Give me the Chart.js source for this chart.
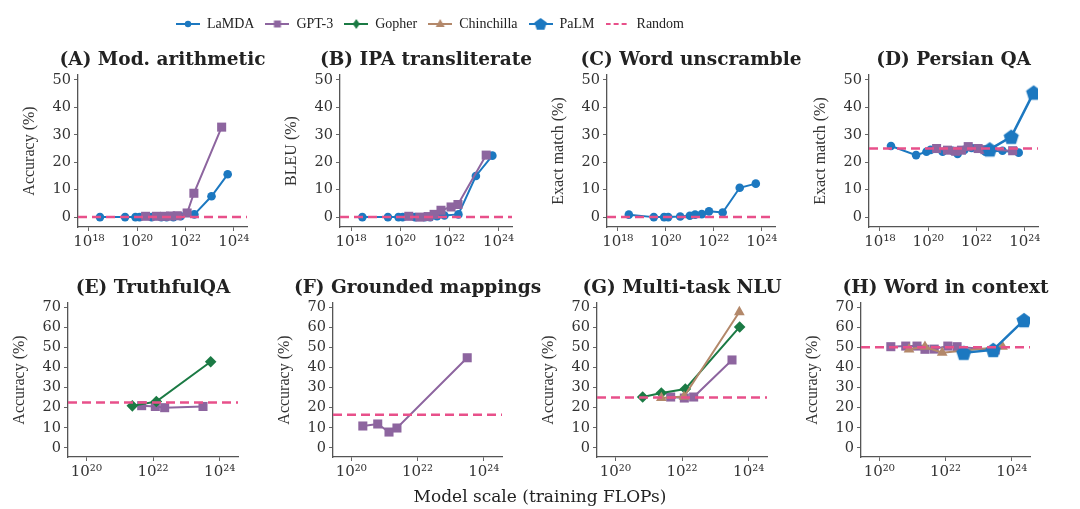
<!DOCTYPE html>
<html>
<head>
<meta charset="utf-8">
<script src="https://cdn.jsdelivr.net/npm/chart.js@4.4.1/dist/chart.umd.min.js"></script>
<style>
  body{margin:0;background:#fff;width:1080px;height:509px;overflow:hidden;position:relative}
  canvas{position:absolute}
  #xtitle{position:absolute;left:0;width:1080px;top:486px;text-align:center;font:17px "DejaVu Serif",serif;color:#222}
</style>
</head>
<body>
<canvas id="legend"></canvas>
<canvas id="p0"></canvas><canvas id="p1"></canvas><canvas id="p2"></canvas><canvas id="p3"></canvas>
<canvas id="p4"></canvas><canvas id="p5"></canvas><canvas id="p6"></canvas><canvas id="p7"></canvas>
<div id="xtitle">Model scale (training FLOPs)</div>
<script>
// series
const seriesNames = ['LaMDA', 'GPT-3', 'Gopher', 'Chinchilla', 'PaLM', 'Random'];

// log10 of training FLOPs for each model
const lamdaX = [18.46, 19.5, 19.93, 20.1, 20.6, 21.0, 21.22, 21.5, 21.8, 22.37, 23.08, 23.75];
const gpt3X = [20.35, 20.8, 21.14, 21.38, 21.66, 22.07, 22.35, 23.5];
const gopherX = [20.82, 21.38, 22.1, 23.73];
const chinchillaX = [20.9, 21.38, 21.9, 22.06, 23.72];
const palmX = [22.55, 23.44, 24.37];

// (A) Mod. arithmetic
const aLamda = [0, 0, 0, 0, 0, 0, 0, 0, 0.3, 1, 7.6, 15.6];
const aGpt3 = [0.3, 0.3, 0.3, 0.4, 0.5, 1.5, 8.7, 32.8];
// (B) IPA transliterate
const bLamda = [0, 0, 0, 0, 0, 0, 0, 0.3, 0.6, 1, 15, 22.4];
const bGpt3 = [0.3, 0, 0.2, 1, 2.5, 3.7, 4.6, 22.6];
// (C) Word unscramble
const cLamda = [0.9, 0, 0, 0, 0.2, 0.5, 0.9, 1.1, 2.1, 1.7, 10.7, 12.2];
// (D) Persian QA
const dLamda = [25.9, 22.6, 23.8, 24.5, 23.8, 24.2, 23, 24.5, 25.2, 23.8, 24.2, 23.5];
const dGpt3 = [25, 24.4, 24, 24.4, 25.7, 25, 24.6, 24.2];
const dPalm = [24.7, 29.3, 45.4];
// (E) TruthfulQA
const eGopher = [null, 20.9, 23.1, 42.8];
const eGpt3 = [null, null, null, null, 21, 20.6, 20, 20.6];
// (F) Grounded mappings
const fGpt3 = [10.9, 11.9, 7.9, 9.9, null, null, null, 44.8];
// (G) Multi-task NLU
const gGopher = [25.3, 27.3, 29.3, 60.1];
const gChinchilla = [null, 24.8, null, 25.5, 67.5];
const gGpt3 = [null, null, null, null, 25.3, 24.8, 25.3, 43.7];
// (H) Word in context
const hGpt3 = [50.3, 50.6, 50.6, 49, 49.1, 50.6, 50.3, 48.7];
const hChinchilla = [49, 50.3, 47.3, null, 50.3];
const hPalm = [47.3, 48.7, 63.5];

// random baseline per panel
const randomLevel = [0, 0, 0, 25, 22.6, 16.5, 25, 50];

const titles = ['(A) Mod. arithmetic', '(B) IPA transliterate', '(C) Word unscramble', '(D) Persian QA',
  '(E) TruthfulQA', '(F) Grounded mappings', '(G) Multi-task NLU', '(H) Word in context'];
const yTitles = ['Accuracy (%)', 'BLEU (%)', 'Exact match (%)', 'Exact match (%)',
  'Accuracy (%)', 'Accuracy (%)', 'Accuracy (%)', 'Accuracy (%)'];
const xTicksTop = [18, 20, 22, 24];
const xTicksBottom = [20, 22, 24];
const yTicksTop = [0, 10, 20, 30, 40, 50];
const yTicksBottom = [0, 10, 20, 30, 40, 50, 60, 70];

// styles
const colors = ['#1c78c0', '#8d659f', '#1b7a44', '#b3886a', '#1c78c0', '#e8508a'];

function pentagon(r) {
  const c = document.createElement('canvas');
  c.width = c.height = Math.ceil(r * 2 + 2);
  const g = c.getContext('2d');
  const m = c.width / 2;
  g.beginPath();
  for (let k = 0; k < 5; k++) {
    const a = -Math.PI / 2 + k * 2 * Math.PI / 5;
    g.lineTo(m + r * Math.cos(a), m + 0.8 + r * Math.sin(a));
  }
  g.closePath();
  g.fillStyle = colors[4];
  g.fill();
  return c;
}
const palmPoint = pentagon(8);
const pointStyles = ['circle', 'rect', 'rectRot', 'triangle', palmPoint, false];
const radii = [4.3, 6.4, 5.8, 6.2, 8, 0];

// plot area of each panel, left and right (px)
const areas = [
  [78, 247], [340, 512], [607, 775], [869, 1038],
  [68, 238], [333, 502], [597, 767], [861, 1030]
];

const sup = {'0':'⁰','1':'¹','2':'²','3':'³','4':'⁴','5':'⁵','6':'⁶','7':'⁷','8':'⁸','9':'⁹'};
function pow10Label(v) {
  const e = String(Math.round(Math.log10(v)));
  return '10' + e.split('').map(d => sup[d]).join('');
}

function serie(k, xs, ys) {
  const pts = [];
  xs.forEach((lx, i) => { if (ys[i] != null) pts.push({x: Math.pow(10, lx), y: ys[i]}); });
  return {
    label: seriesNames[k],
    data: pts,
    showLine: true,
    borderColor: colors[k],
    backgroundColor: colors[k],
    borderWidth: k == 4 ? 2.5 : 2,
    pointStyle: pointStyles[k],
    pointRadius: radii[k],
    pointBorderWidth: 0,
    pointHoverRadius: radii[k]
  };
}

function randomLine(i, lo, hi) {
  return {
    label: 'Random',
    data: [{x: Math.pow(10, lo), y: randomLevel[i]}, {x: Math.pow(10, hi), y: randomLevel[i]}],
    showLine: true,
    borderColor: colors[5],
    borderWidth: 2.5,
    borderDash: [9, 5],
    pointRadius: 0
  };
}

// datasets: the first one is drawn on top
const panelSeries = [
  [serie(1, gpt3X, aGpt3), serie(0, lamdaX, aLamda)],
  [serie(1, gpt3X, bGpt3), serie(0, lamdaX, bLamda)],
  [serie(0, lamdaX, cLamda)],
  [serie(4, palmX, dPalm), serie(1, gpt3X, dGpt3), serie(0, lamdaX, dLamda)],
  [serie(2, gopherX, eGopher), serie(1, gpt3X, eGpt3)],
  [serie(1, gpt3X, fGpt3)],
  [serie(3, chinchillaX, gChinchilla), serie(2, gopherX, gGopher), serie(1, gpt3X, gGpt3)],
  [serie(4, palmX, hPalm), serie(3, chinchillaX, hChinchilla), serie(1, gpt3X, hGpt3)]
];

const side = 60; // room for the y axis; an empty axis of the same width on the right keeps the title centred

function panel(i) {
  const bottomRow = i >= 4;
  const [l, r] = areas[i];
  const plotH = bottomRow ? 154 : 152;
  const cv = document.getElementById('p' + i);
  cv.width = side + (r - l) + side;
  cv.height = 32 + plotH + 30;
  cv.style.left = (l - side) + 'px';
  cv.style.top = (bottomRow ? 271 : 43) + 'px';
  const xlo = bottomRow ? 19.45 : 17.55, xhi = 24.55;
  const xt = bottomRow ? xTicksBottom : xTicksTop;
  const yt = bottomRow ? yTicksBottom : yTicksTop;

  new Chart(cv, {
    type: 'scatter',
    data: {datasets: [randomLine(i, xlo, xhi)].concat(panelSeries[i])},
    options: {
      responsive: false,
      animation: false,
      layout: {padding: {top: 5.8, right: 0, left: 0, bottom: 0}},
      plugins: {
        legend: {display: false},
        tooltip: {enabled: false},
        title: {
          display: true, text: titles[i],
          font: {family: 'DejaVu Serif', size: 18.5, weight: 'bold'},
          color: '#222', padding: {top: 0, bottom: 4}
        }
      },
      scales: {
        x: {
          type: 'logarithmic',
          min: Math.pow(10, xlo), max: Math.pow(10, xhi),
          afterBuildTicks: s => { s.ticks = xt.map(e => ({value: Math.pow(10, e)})); },
          afterFit: s => { s.height = 30; },
          ticks: {callback: v => pow10Label(v), font: {family: 'DejaVu Serif', size: 15}, color: '#333', autoSkip: false, maxRotation: 0, padding: 2},
          grid: {drawOnChartArea: false, tickLength: 4, color: '#666'},
          border: {color: '#555', width: 1.3}
        },
        y: {
          min: bottomRow ? -4.5 : -3.6, max: bottomRow ? 72 : 51.8,
          afterBuildTicks: s => { s.ticks = yt.map(v => ({value: v})); },
          afterFit: s => { s.width = side; },
          ticks: {font: {family: 'DejaVu Serif', size: 14.5}, color: '#333', padding: 3},
          grid: {drawOnChartArea: false, tickLength: 4, color: '#666'},
          border: {color: '#555', width: 1.3},
          title: {display: true, text: yTitles[i], font: {family: 'Liberation Serif', size: 16}, color: '#333', padding: {top: 2, bottom: 0}}
        },
        yRight: {
          position: 'right', display: true,
          afterFit: s => { s.width = side; },
          ticks: {display: false},
          grid: {display: false},
          border: {display: false}
        }
      }
    }
  });
}

for (let i = 0; i < 8; i++) panel(i);

// legend icons: a short line with the marker in the middle
function legendIcon(k) {
  const c = document.createElement('canvas');
  c.width = 24; c.height = 14;
  const g = c.getContext('2d');
  g.strokeStyle = colors[k];
  g.fillStyle = colors[k];
  g.lineWidth = 2;
  if (k == 5) g.setLineDash([5, 3]);
  g.beginPath(); g.moveTo(0, 7); g.lineTo(24, 7); g.stroke();
  g.setLineDash([]);
  g.beginPath();
  if (k == 0) g.arc(12, 7, 3.2, 0, 2 * Math.PI);
  if (k == 1) g.rect(8.5, 3.5, 7, 7);
  if (k == 2) { g.moveTo(12, 2); g.lineTo(15.5, 7); g.lineTo(12, 12); g.lineTo(8.5, 7); }
  if (k == 3) { g.moveTo(12, 2); g.lineTo(16.5, 10); g.lineTo(7.5, 10); }
  if (k == 4) {
    for (let j = 0; j < 5; j++) {
      const a = -Math.PI / 2 + j * 2 * Math.PI / 5;
      g.lineTo(12 + 6.5 * Math.cos(a), 7.5 + 6.5 * Math.sin(a));
    }
  }
  g.closePath();
  g.fill();
  return c;
}
const legendIcons = seriesNames.map((n, k) => legendIcon(k));

const lg = document.getElementById('legend');
lg.width = 760; lg.height = 120;
lg.style.left = '165px'; lg.style.top = '6px';
new Chart(lg, {
  type: 'line',
  data: {datasets: seriesNames.map((n, k) => ({label: n, data: [], borderColor: colors[k]}))},
  options: {
    responsive: false,
    animation: false,
    scales: {x: {display: false}, y: {display: false}},
    plugins: {
      tooltip: {enabled: false},
      legend: {
        align: 'start',
        labels: {
          usePointStyle: true, pointStyleWidth: 24, padding: 11,
          font: {family: 'Liberation Serif', size: 14}, color: '#222',
          generateLabels: () => seriesNames.map((n, k) => ({
            text: n, pointStyle: legendIcons[k], fillStyle: colors[k],
            strokeStyle: 'rgba(0,0,0,0)', lineWidth: 0, hidden: false, datasetIndex: k, fontColor: '#222'
          }))
        }
      }
    }
  }
});
</script>
</body>
</html>
